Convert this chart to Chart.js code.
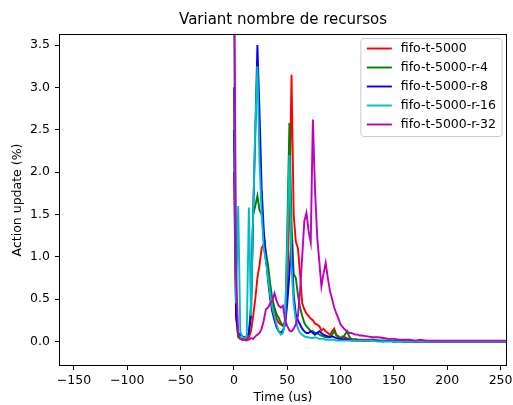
<!DOCTYPE html>
<html>
<head>
<meta charset="utf-8">
<script src="https://cdn.jsdelivr.net/npm/chart.js"></script>
<style>
  html, body { margin: 0; padding: 0; background: #fff; }
  #wrap { width: 513px; height: 405px; }
</style>
</head>
<body>
<div id="wrap"><canvas id="myChart" width="513" height="405"></canvas></div>
<script>
// time axis (us)
var time = [0, 2, 4, 6, 8, 10, 12, 14, 16, 18,
    20, 22, 24, 26, 28, 30, 32, 34, 36, 38,
    40, 42, 44, 46, 48, 50, 52, 54, 56, 58,
    60, 62, 64, 66, 68, 70, 72, 74, 76, 78,
    80, 82, 84, 86, 88, 90, 92, 94, 96, 98,
    100, 102, 104, 106, 108, 110, 112, 114, 116, 118,
    120, 125, 130, 135, 140, 145, 150, 155, 160, 165,
    170, 175, 180, 185, 190, 195, 200, 205, 210, 215,
    220, 225, 230, 235, 240, 245, 250, 255];

var fifo = [2.0, 0.35, 0.06, 0.03, 0.02, 0.03, 0.02, 0.05, 0.12, 0.3,
    0.5, 0.75, 0.9, 1.1, 1.15, 0.95, 0.8, 0.6, 0.45, 0.35,
    0.27, 0.22, 0.2, 0.18, 0.25, 0.6, 1.6, 3.15, 1.5, 1.18,
    1.1, 0.8, 0.45, 0.38, 0.33, 0.3, 0.27, 0.25, 0.21, 0.2,
    0.18, 0.13, 0.15, 0.12, 0.1, 0.08, 0.12, 0.15, 0.08, 0.06,
    0.04, 0.06, 0.05, 0.04, 0.03, 0.03, 0.02, 0.03, 0.02, 0.02,
    0.02, 0.02, 0.02, 0.01, 0.01, 0.01, 0.01, 0.01, 0, 0.01,
    0, 0, 0.01, 0, 0, 0, 0, 0, 0, 0,
    0, 0, 0, 0, 0, 0, 0, 0];

var fifoR4 = [2.5, 0.3, 0.05, 0.03, 0.03, 0.04, 0.05, 0.1, 0.45, 1.5,
    1.6, 1.72, 1.55, 1.5, 1.25, 1.05, 0.9, 0.68, 0.5, 0.4,
    0.32, 0.28, 0.22, 0.19, 0.22, 1.3, 2.58, 1.4, 0.8, 0.75,
    0.55, 0.4, 0.3, 0.22, 0.18, 0.15, 0.12, 0.12, 0.1, 0.1,
    0.08, 0.07, 0.06, 0.05, 0.05, 0.06, 0.08, 0.12, 0.07, 0.05,
    0.04, 0.04, 0.08, 0.12, 0.06, 0.03, 0.02, 0.02, 0.01, 0.02,
    0.01, 0.01, 0.02, 0.01, 0.01, 0.01, 0, 0.01, 0, 0,
    0, 0, 0, 0, 0, 0, 0, 0, 0, 0,
    0, 0, 0, 0, 0, 0, 0, 0];

var fifoR8 = [3.0, 0.3, 0.1, 0.08, 0.06, 0.05, 0.06, 0.1, 0.3, 1.5,
    2.45, 3.5, 2.7, 1.8, 1.3, 1.0, 0.72, 0.5, 0.35, 0.25,
    0.17, 0.12, 0.1, 0.13, 0.2, 0.45, 0.8, 1.2, 0.55, 0.32,
    0.25, 0.2, 0.15, 0.12, 0.1, 0.1, 0.12, 0.1, 0.08, 0.1,
    0.12, 0.1, 0.08, 0.07, 0.06, 0.05, 0.06, 0.05, 0.04, 0.03,
    0.03, 0.02, 0.03, 0.02, 0.02, 0.01, 0.01, 0.01, 0.01, 0.01,
    0.01, 0.01, 0.01, 0.01, 0, 0.01, 0, 0, 0, 0,
    0, 0, 0, 0, 0, 0, 0, 0, 0, 0,
    0, 0, 0, 0, 0, 0, 0, 0];

var fifoR16 = [4.0, 0.45, 1.6, 0.12, 0.05, 0.04, 0.06, 1.58, 0.3, 1.5,
    2.5, 3.25, 2.1, 1.5, 1.1, 0.95, 0.75, 0.55, 0.4, 0.3,
    0.2, 0.12, 0.08, 0.1, 0.25, 1.1, 2.2, 0.9, 0.45, 0.25,
    0.15, 0.1, 0.08, 0.06, 0.05, 0.05, 0.04, 0.04, 0.05, 0.04,
    0.03, 0.03, 0.03, 0.02, 0.02, 0.02, 0.02, 0.02, 0.01, 0.01,
    0.01, 0.01, 0.01, 0.01, 0.01, 0.01, 0.01, 0.01, 0.01, 0.01,
    0.01, 0.01, 0.01, 0, 0, 0, 0, 0, 0, 0,
    0, 0, 0, 0, 0, 0, 0, 0, 0, 0,
    0, 0, 0, 0, 0, 0, 0, 0];

var fifoR32 = [5.0, 0.8, 0.1, 0.03, 0.02, 0.02, 0.01, 0.02, 0.04, 0.03,
    0.06, 0.08, 0.1, 0.15, 0.25, 0.38, 0.4, 0.45, 0.48, 0.57,
    0.48, 0.42, 0.4, 0.42, 0.25, 0.18, 0.13, 0.12, 0.15, 0.2,
    0.3, 0.6, 1.0, 1.42, 1.52, 1.3, 1.17, 2.62, 1.8, 1.25,
    0.95, 0.65, 0.8, 0.93, 0.75, 0.6, 0.5, 0.4, 0.33, 0.27,
    0.2, 0.17, 0.14, 0.12, 0.1, 0.1, 0.09, 0.08, 0.08, 0.07,
    0.07, 0.06, 0.05, 0.05, 0.04, 0.03, 0.03, 0.02, 0.02, 0.02,
    0.01, 0.02, 0.01, 0.01, 0.01, 0.01, 0.01, 0.01, 0.01, 0.01,
    0.01, 0.01, 0.01, 0.01, 0.01, 0.01, 0.01, 0.01];

var labels = ['fifo-t-5000', 'fifo-t-5000-r-4', 'fifo-t-5000-r-8', 'fifo-t-5000-r-16', 'fifo-t-5000-r-32'];
var colors = ['#ff0000', '#008000', '#0000ff', '#00bfbf', '#bf00bf'];
var series = [fifo, fifoR4, fifoR8, fifoR16, fifoR32];

var xTicks = [-150, -100, -50, 0, 50, 100, 150, 200, 250];
var yTicks = [0, 0.5, 1, 1.5, 2, 2.5, 3, 3.5];

Chart.defaults.font.family = '"DejaVu Sans", sans-serif';
Chart.defaults.color = '#000';

function points(vals) {
    return vals.map(function (v, i) { return { x: time[i], y: v }; });
}

var datasets = series.map(function (vals, i) {
    return {
        label: labels[i],
        data: points(vals),
        borderColor: colors[i],
        backgroundColor: colors[i],
        borderWidth: 1.9,
        pointRadius: 0,
        fill: false,
        order: series.length - i
    };
});

// axes box + legend drawn like matplotlib
var mplBox = {
    id: 'mplBox',
    afterDraw: function (chart) {
        var c = chart.ctx, a = chart.chartArea;
        c.save();
        c.strokeStyle = '#000';
        c.lineWidth = 1;
        c.strokeRect(Math.round(a.left) + 0.5, Math.round(a.top) + 0.5,
            Math.round(a.right - a.left) - 1, Math.round(a.bottom - a.top) - 1);

        c.font = '12.5px "DejaVu Sans"';
        var maxW = 0;
        chart.data.datasets.forEach(function (d) {
            maxW = Math.max(maxW, c.measureText(d.label).width);
        });
        var w = 6 + 25 + 9 + maxW + 6, h = 98;
        var x0 = a.right - 5 - w, y0 = a.top + 4.5, r = 3;
        c.beginPath();
        c.moveTo(x0 + r, y0);
        c.lineTo(x0 + w - r, y0);
        c.arcTo(x0 + w, y0, x0 + w, y0 + r, r);
        c.lineTo(x0 + w, y0 + h - r);
        c.arcTo(x0 + w, y0 + h, x0 + w - r, y0 + h, r);
        c.lineTo(x0 + r, y0 + h);
        c.arcTo(x0, y0 + h, x0, y0 + h - r, r);
        c.lineTo(x0, y0 + r);
        c.arcTo(x0, y0, x0 + r, y0, r);
        c.closePath();
        c.fillStyle = 'rgba(255,255,255,0.8)';
        c.fill();
        c.strokeStyle = '#cccccc';
        c.stroke();

        c.textBaseline = 'middle';
        c.fillStyle = '#000';
        chart.data.datasets.forEach(function (d, i) {
            var yy = y0 + 10 + i * 19;
            c.strokeStyle = d.borderColor;
            c.lineWidth = 1.9;
            c.beginPath();
            c.moveTo(x0 + 6, yy);
            c.lineTo(x0 + 31, yy);
            c.stroke();
            c.fillText(d.label, x0 + 40, yy);
        });
        c.restore();
    }
};

var ctx = document.getElementById('myChart').getContext('2d');
var myChart = new Chart(ctx, {
    type: 'line',
    data: { datasets: datasets },
    plugins: [mplBox],
    options: {
        responsive: false,
        animation: false,
        devicePixelRatio: 1,
        layout: { padding: { left: 0, right: 6, top: 0, bottom: 0 } },
        plugins: {
            legend: { display: false },
            tooltip: { enabled: false },
            title: {
                display: true,
                text: 'Variant nombre de recursos',
                fullSize: false,
                color: '#000',
                font: { size: 15, weight: 'normal' },
                padding: { top: 11, bottom: 5 }
            }
        },
        scales: {
            x: {
                type: 'linear',
                min: -164,
                max: 256,
                afterBuildTicks: function (s) { s.ticks = xTicks.map(function (v) { return { value: v }; }); },
                afterFit: function (s) { s.height = 39; s.paddingLeft = 0; s.paddingRight = 0; },
                ticks: {
                    font: { size: 12.5 },
                    padding: 3,
                    maxRotation: 0,
                    callback: function (v) { return String(v).replace('-', '\u2212'); }
                },
                grid: { display: true, drawOnChartArea: false, drawTicks: true, tickLength: 4, color: '#000' },
                border: { display: false },
                title: { display: true, text: 'Time (us)', font: { size: 12.5 }, padding: { top: 0, bottom: 0 } }
            },
            y: {
                type: 'linear',
                min: -0.29,
                max: 3.63,
                afterBuildTicks: function (s) { s.ticks = yTicks.map(function (v) { return { value: v }; }); },
                afterFit: function (s) { s.width = 59; s.paddingTop = 0; s.paddingBottom = 0; },
                ticks: {
                    font: { size: 12.5 },
                    padding: 5,
                    callback: function (v) { return v.toFixed(1); }
                },
                grid: { display: true, drawOnChartArea: false, drawTicks: true, tickLength: 4, color: '#000' },
                border: { display: false },
                title: { display: true, text: 'Action update (%)', font: { size: 12.5 }, padding: { top: 10, bottom: 0 } }
            }
        }
    }
});
</script>
</body>
</html>
